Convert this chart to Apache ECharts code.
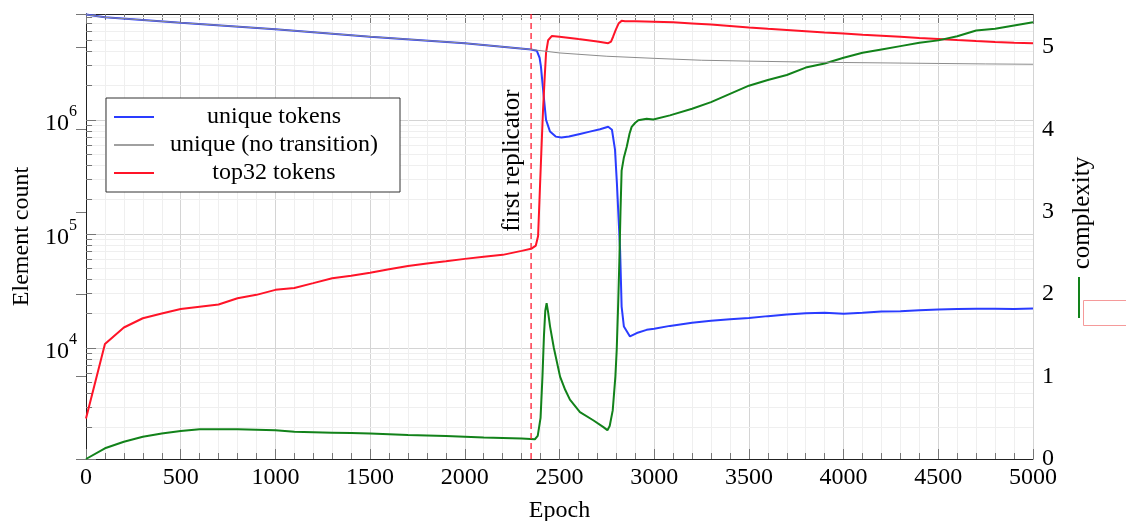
<!DOCTYPE html>
<html>
<head>
<meta charset="utf-8">
<script src="https://cdn.jsdelivr.net/npm/echarts@6/dist/echarts.min.js"></script>
<style>
html,body{margin:0;padding:0;background:#fff;}
#chart{width:1126px;height:521px;}
</style>
</head>
<body>
<div id="chart"></div>
<script>
// ---------------- data ----------------
const uniqueEpochs = [0,100,500,1000,1500,2000,2350,2380,2387,2395,2402,2415,2429,2450,2480,2510,2550,2608,2660,2714,2757,2777,2793,2803,2814,2820,2828,2840,2872,2908,2960,3000,3083,3200,3300,3400,3500,3600,3700,3800,3900,4000,4100,4200,4300,4400,4500,4600,4700,4800,4900,5000];
const uniqueValues = [8.4e6,7.95e6,7.13e6,6.25e6,5.38e6,4.71e6,4.15e6,4.05e6,3.95e6,3.5e6,2.94e6,1.73e6,1.0e6,7.9e5,7.14e5,7.0e5,7.15e5,7.54e5,7.9e5,8.28e5,8.7e5,8.2e5,5.5e5,2.8e5,1.16e5,7.2e4,2.3e4,1.54e4,1.26e4,1.35e4,1.44e4,1.47e4,1.56e4,1.66e4,1.73e4,1.78e4,1.83e4,1.9e4,1.96e4,2.01e4,2.03e4,1.99e4,2.03e4,2.09e4,2.1e4,2.14e4,2.17e4,2.19e4,2.2e4,2.2e4,2.19e4,2.22e4];

const noTransEpochs = [0,100,500,1000,1500,2000,2350,2500,2750,3000,3250,3500,3750,4000,4250,4500,4750,5000];
const noTransValues = [8.4e6,7.95e6,7.13e6,6.25e6,5.38e6,4.71e6,4.15e6,3.87e6,3.62e6,3.47e6,3.34e6,3.28e6,3.23e6,3.19e6,3.16e6,3.13e6,3.1e6,3.08e6];

const topEpochs = [0,100,200,300,400,500,600,700,800,900,1000,1100,1200,1300,1400,1500,1600,1700,1800,1900,2000,2100,2200,2300,2350,2375,2387,2397,2406,2413,2422,2429,2440,2460,2500,2600,2700,2757,2772,2783,2798,2813,2828,2846,2900,3000,3100,3200,3300,3400,3500,3600,3700,3800,3900,4000,4100,4200,4300,4400,4500,4600,4700,4800,4900,5000];
const topValues = [2.4e3,1.08e4,1.51e4,1.82e4,2.0e4,2.19e4,2.3e4,2.4e4,2.73e4,2.92e4,3.23e4,3.36e4,3.7e4,4.08e4,4.3e4,4.57e4,4.9e4,5.24e4,5.5e4,5.76e4,6.04e4,6.3e4,6.55e4,7.1e4,7.4e4,7.9e4,9.6e4,2.6e5,6.3e5,1.22e6,2.4e6,3.87e6,5.0e6,5.46e6,5.38e6,5.12e6,4.88e6,4.71e6,4.87e6,5.37e6,6.22e6,7.06e6,7.4e6,7.35e6,7.33e6,7.28e6,7.18e6,7.03e6,6.88e6,6.68e6,6.47e6,6.3e6,6.15e6,6.0e6,5.86e6,5.73e6,5.6e6,5.48e6,5.36e6,5.24e6,5.13e6,5.02e6,4.92e6,4.83e6,4.76e6,4.7e6];

const complexityEpochs = [0,100,200,300,400,500,600,700,800,900,1000,1100,1200,1300,1400,1500,1600,1700,1800,1900,2000,2100,2200,2300,2370,2385,2400,2410,2418,2425,2432,2440,2450,2470,2503,2530,2555,2608,2678,2730,2753,2765,2781,2795,2802,2810,2816,2822,2828,2840,2855,2870,2881,2900,2916,2960,2995,3083,3200,3300,3400,3500,3600,3700,3800,3900,4000,4100,4200,4300,4400,4500,4600,4700,4800,4900,5000];
const complexityValues = [0,0.13,0.21,0.27,0.31,0.34,0.36,0.36,0.36,0.355,0.35,0.33,0.325,0.32,0.315,0.31,0.3,0.29,0.285,0.28,0.27,0.26,0.255,0.25,0.24,0.28,0.5,1.0,1.5,1.8,1.89,1.78,1.61,1.35,1.0,0.84,0.72,0.57,0.47,0.39,0.35,0.4,0.59,1.0,1.32,1.9,2.4,3.0,3.5,3.66,3.79,3.95,4.03,4.08,4.11,4.13,4.12,4.17,4.25,4.33,4.43,4.53,4.6,4.66,4.75,4.8,4.87,4.93,4.97,5.01,5.05,5.08,5.13,5.2,5.22,5.26,5.30];

const replicatorEpoch = 2350;
const decadeTicks = [1e4,1e5,1e6];
const minorLogValues = [];
[1e3,1e4,1e5,1e6].forEach(d => { for (let k = 2; k <= 9; k++) minorLogValues.push(k*d); });

// ---------------- chart ----------------
const FONT = 'Liberation Serif';
const zip = (xs, ys) => xs.map((x, i) => [x, ys[i]]);
const Y_MIN = 1060, Y_MAX = 8.5e6;
const visibleMinor = minorLogValues.filter(v => v > Y_MIN && v < Y_MAX);

const chart = echarts.init(document.getElementById('chart'), null, {renderer: 'canvas'});

const axisLineStyle = {color: '#222', width: 1};
const tickStyle = {color: '#777', width: 1};
const REPL_COLOR = '#ff1a30';

const option = {
  animation: false,
  backgroundColor: '#fff',
  textStyle: {fontFamily: FONT},
  grid: {left: 86, right: 93, top: 14, bottom: 62, containLabel: false, outerBoundsMode: 'none'},
  legend: {
    orient: 'vertical',
    left: 106, top: 98,
    padding: [7, 11, 7, 8],
    itemGap: 4,
    itemWidth: 40,
    itemHeight: 2,
    borderColor: '#333', borderWidth: 1,
    backgroundColor: '#fff',
    z: 20,
    selectedMode: false,
    data: [
      {name: 'unique tokens', icon: 'rect'},
      {name: 'unique (no transition)', icon: 'rect', itemStyle: {color: '#a0a0a0'}},
      {name: 'top32 tokens', icon: 'rect'}
    ],
    formatter: name => '{t|' + name + '}',
    textStyle: {
      rich: {t: {width: 230, align: 'center', fontSize: 24, lineHeight: 26, fontFamily: FONT, color: '#000'}}
    }
  },
  xAxis: [{
    type: 'value', min: 0, max: 5000, interval: 500,
    name: 'Epoch', nameLocation: 'middle', nameGap: 40,
    nameTextStyle: {fontSize: 24, fontFamily: FONT, color: '#000'},
    axisLine: {show: true, lineStyle: axisLineStyle},
    axisTick: {show: true, inside: true, length: 10, lineStyle: tickStyle},
    minorTick: {show: true, splitNumber: 5, length: 6, lineStyle: tickStyle},
    splitLine: {show: true, lineStyle: {color: '#d4d4d4', width: 1}},
    minorSplitLine: {show: true, lineStyle: {color: '#efefef', width: 1}},
    axisLabel: {fontSize: 24, fontFamily: FONT, color: '#000', margin: 7, formatter: v => String(v)}
  }, {
    type: 'value', position: 'top', min: 0, max: 5000, interval: 500,
    axisLine: {show: true, lineStyle: axisLineStyle},
    axisTick: {show: true, inside: true, length: 10, lineStyle: tickStyle},
    minorTick: {show: true, splitNumber: 5, length: 6, lineStyle: tickStyle},
    splitLine: {show: false},
    axisLabel: {show: false}
  }],
  yAxis: [{
    type: 'log', logBase: 10, min: Y_MIN, max: Y_MAX,
    name: 'Element count', nameLocation: 'middle', nameGap: 52, nameRotate: 90,
    nameTextStyle: {fontSize: 24, fontFamily: FONT, color: '#000'},
    axisLine: {show: true, lineStyle: axisLineStyle},
    axisTick: {show: true, inside: true, length: 10, lineStyle: tickStyle},
    splitLine: {show: true, lineStyle: {color: '#d4d4d4', width: 1}},
    axisLabel: {
      margin: 9,
      formatter: v => {
        const l = Math.log10(v);
        const n = Math.round(l);
        if (Math.abs(l - n) > 1e-6 || decadeTicks.indexOf(Math.pow(10, n)) < 0) return '';
        return '{b|10}{s|' + n + '}';
      },
      rich: {
        b: {fontSize: 24, fontFamily: FONT, color: '#000', lineHeight: 32, verticalAlign: 'bottom'},
        s: {fontSize: 16, fontFamily: FONT, color: '#000', lineHeight: 32, verticalAlign: 'top'}
      }
    }
  }, {
    type: 'value', position: 'right', min: 0, max: 5.4, interval: 1,
    axisLine: {show: true, lineStyle: axisLineStyle},
    axisTick: {show: true, inside: true, length: 10, lineStyle: tickStyle},
    splitLine: {show: false},
    axisLabel: {
      fontSize: 24, fontFamily: FONT, color: '#000', margin: 9,
      formatter: v => (Math.abs(v - Math.round(v)) < 1e-9 ? String(Math.round(v)) : '')
    }
  }],
  series: [
    {
      name: 'log grid', type: 'line', data: [], xAxisIndex: 0, yAxisIndex: 0, z: 1,
      silent: true, legendHoverLink: false,
      markLine: {
        silent: true, symbol: ['none', 'none'], animation: false,
        label: {show: false},
        lineStyle: {color: '#efefef', width: 1, type: 'solid'},
        emphasis: {disabled: true},
        data: visibleMinor.map(v => ({yAxis: v}))
          .concat(visibleMinor.map(v => [
            {coord: [0, v], lineStyle: {color: '#777', width: 1, type: 'solid'}},
            {coord: [32, v]}
          ]))
      }
    },
    {
      name: 'unique tokens', type: 'line', yAxisIndex: 0, z: 10,
      data: zip(uniqueEpochs, uniqueValues),
      symbol: 'none', lineStyle: {color: '#2a3cff', width: 2}, itemStyle: {color: '#2a3cff'}
    },
    {
      name: 'unique (no transition)', type: 'line', yAxisIndex: 0, z: 11,
      data: zip(noTransEpochs, noTransValues),
      symbol: 'none', lineStyle: {color: '#8c8c8c', width: 1}, itemStyle: {color: '#8c8c8c'}
    },
    {
      name: 'top32 tokens', type: 'line', yAxisIndex: 0, z: 10,
      data: zip(topEpochs, topValues),
      symbol: 'none', lineStyle: {color: '#ff1428', width: 2}, itemStyle: {color: '#ff1428'}
    },
    {
      name: 'replicator', type: 'line', xAxisIndex: 0, yAxisIndex: 0, z: 12,
      silent: true, legendHoverLink: false, symbol: 'none',
      data: [[replicatorEpoch, Y_MIN], [replicatorEpoch, Y_MAX]],
      lineStyle: {color: REPL_COLOR, width: 1.3, type: [6, 4]},
      itemStyle: {color: REPL_COLOR}
    },
    {
      name: 'complexity', type: 'line', yAxisIndex: 1, z: 10,
      data: zip(complexityEpochs, complexityValues),
      symbol: 'none', lineStyle: {color: '#12821a', width: 2}, itemStyle: {color: '#12821a'}
    }
  ]
};
chart.setOption(option);

const rx = chart.convertToPixel({xAxisIndex: 0}, replicatorEpoch);
const ry = chart.convertToPixel({yAxisIndex: 0}, 4.4e5);
chart.setOption({
  graphic: [
    {type: 'text', x: rx - 19, y: ry, rotation: Math.PI / 2, z: 30,
     style: {text: 'first replicator', font: '25px "' + FONT + '"', fill: '#000', align: 'center', verticalAlign: 'middle'}},
    {type: 'text', x: 1082, y: 213, rotation: Math.PI / 2, z: 30,
     style: {text: 'complexity', font: '25px "' + FONT + '"', fill: '#000', align: 'center', verticalAlign: 'middle'}},
    {type: 'line', z: 30, shape: {x1: 1079, y1: 277, x2: 1079, y2: 318}, style: {stroke: '#12821a', lineWidth: 2}},
    {type: 'rect', z: 30, shape: {x: 1083.5, y: 300.5, width: 60, height: 25}, style: {fill: 'none', stroke: '#f59a9a', lineWidth: 1}}
  ]
});
</script>
</body>
</html>
